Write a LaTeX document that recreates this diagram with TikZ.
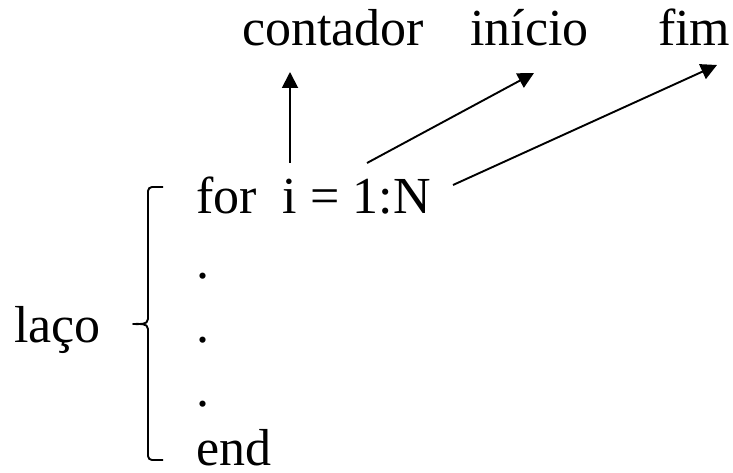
\documentclass[tikz,border=0pt]{standalone}
\usepackage{fontspec}
\setmainfont{Liberation Serif}[Ligatures=NoCommon]
\usetikzlibrary{arrows.meta}
\begin{document}
\begin{tikzpicture}[x=1pt,y=-1pt,
  txt/.style={inner sep=0pt, anchor=base west, font=\fontsize{52}{60}\selectfont},
  arr/.style={line width=1.9pt, -{Triangle[length=16pt,width=16pt]}},
  bracestyle/.style={line width=1.9pt, line cap=butt, line join=round}]
\useasboundingbox (0,0) rectangle (733,473);
% texts
\node[txt] (contador) at (242,46) {contador};
\node[txt] (inicio) at (470,46) {início};
\node[txt] (fim) at (658,46) {fim};
\node[txt] (for) at (196,213) {for\ \ i = 1:N};
\node[txt] (d1) at (196,278) {.};
\node[txt] (d2) at (196,342) {.};
\node[txt] (d3) at (196,406) {.};
\node[txt] (end) at (196,465) {end};
\node[txt] (laco) at (14,342) {laço};
% arrow end points
\coordinate (a1s) at (290,163);
\coordinate (a1e) at (290,72);
\coordinate (a2s) at (367,163);
\coordinate (a2e) at (534,73);
\coordinate (a3s) at (453,185);
\coordinate (a3e) at (717,65);
\draw[arr] (a1s) -- (a1e);
\draw[arr] (a2s) -- (a2e);
\draw[arr] (a3s) -- (a3e);
% brace
\coordinate (btop) at (163,187);
\coordinate (btip) at (133,324);
\coordinate (bbot) at (163,460);
\draw[bracestyle] (btop) -- (152,187) to[out=180,in=90] (148,191) -- (148,319)
  to[out=270,in=0] (btip) to[out=0,in=90] (148,329) -- (148,456)
  to[out=270,in=180] (152,460) -- (bbot);
\end{tikzpicture}
\end{document}
